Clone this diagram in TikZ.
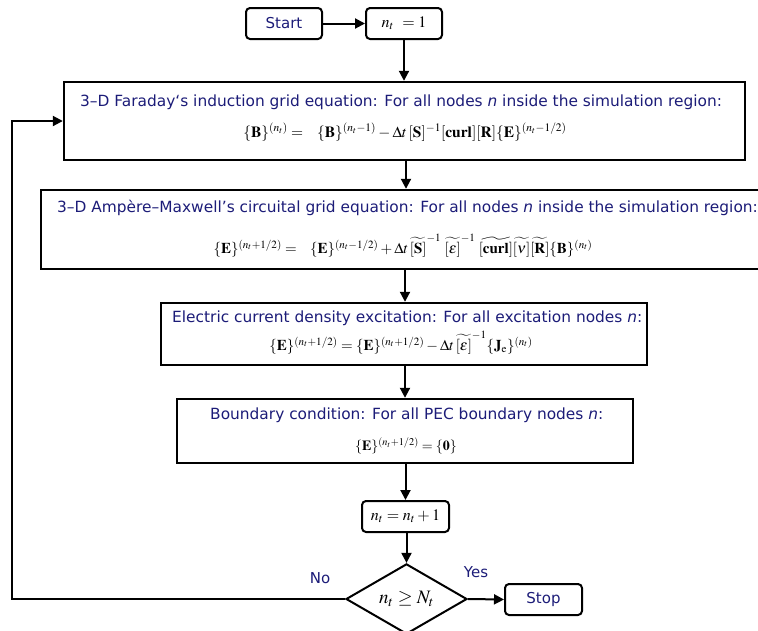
\documentclass[tikz,border=0pt]{standalone}
\usepackage{amsmath,amssymb}
\usepackage{mathptmx}
\usepackage[no-math]{fontspec}
\newfontfamily\labelfont{DejaVu Sans}
\usetikzlibrary{shapes.geometric,arrows.meta}
\definecolor{navy}{RGB}{28,28,120}
\begin{document}
\begin{tikzpicture}[x=1pt,y=-1pt,
  bigbox/.style={draw, line width=2.4pt, inner sep=0pt},
  rbox/.style={draw, line width=2pt, rounded corners=4pt, inner sep=0pt, minimum height=31pt},
  arr/.style={-{Triangle[length=10pt,width=10pt]}, line width=2pt},
  ttl/.style={font=\labelfont\fontsize{15.4}{18}\selectfont, text=navy, inner sep=0pt},
  lbl/.style={font=\labelfont\fontsize{15}{18}\selectfont, text=navy, inner sep=0pt},
  eqn/.style={font=\fontsize{15}{18}\selectfont, inner sep=0pt}]
\path[use as bounding box] (0,0) rectangle (758,630);

% top boxes
\node[rbox, minimum width=76pt, lbl] (start) at (284,23.5) {Start};
\node[rbox, minimum width=76pt] (n1) at (404,23.5) {\fontsize{16}{18}\selectfont$n_t\ =1$};

% big boxes
\node[bigbox, minimum width=681pt, minimum height=78pt] (b1) at (404.5,121) {};
\node[bigbox, minimum width=734pt, minimum height=79pt] (b2) at (408,229.5) {};
\node[bigbox, minimum width=486pt, minimum height=62pt] (b3) at (404,334) {};
\node[bigbox, minimum width=456pt, minimum height=64pt] (b4) at (405,431) {};

\node[ttl, anchor=west] (t1) at (80,102) {3–D Faraday‘s induction grid equation: For all nodes \textit{n} inside the simulation region:};
\node[eqn] (e1) at (405,132) {\fontsize{15.5}{18}\selectfont$\{\mathbf{B}\}^{(n_t)} = \;\;\; \{\mathbf{B}\}^{(n_t-1)} - \Delta t\,[\mathbf{S}]^{-1}[\mathbf{curl}][\mathbf{R}]\{\mathbf{E}\}^{(n_t-1/2)}$};

\node[ttl, anchor=west] (t2) at (57,208) {3–D Ampère–Maxwell’s circuital grid equation: For all nodes \textit{n} inside the simulation region:};
\node[eqn] (e2) at (403,246) {$\{\mathbf{E}\}^{(n_t+1/2)} = \;\;\; \{\mathbf{E}\}^{(n_t-1/2)} + \Delta t\,\widetilde{[\mathbf{S}]}^{-1}\;\widetilde{[\boldsymbol{\varepsilon}]}^{-1}\;\widetilde{[\mathbf{curl}]}\widetilde{[\boldsymbol{\nu}]}\widetilde{[\mathbf{R}]}\{\mathbf{B}\}^{(n_t)}$};

\node[ttl, anchor=west] (t3) at (172,318) {Electric current density excitation: For all excitation nodes \textit{n}:};
\node[eqn] (e3) at (401,343) {$\{\mathbf{E}\}^{(n_t+1/2)} = \{\mathbf{E}\}^{(n_t+1/2)} - \Delta t\,\widetilde{[\boldsymbol{\varepsilon}]}^{-1}\{\mathbf{J}_{\mathrm{e}}\}^{(n_t)}$};

\node[ttl, anchor=west] (t4) at (210,415) {Boundary condition: For all PEC boundary nodes \textit{n}:};
\node[eqn] (e4) at (406,446) {\fontsize{14}{17}\selectfont$\{\mathbf{E}\}^{(n_t+1/2)} = \{\mathbf{0}\}$};

% lower part
\node[rbox, minimum width=87pt] (inc) at (405.5,516.5) {\fontsize{16}{18}\selectfont$n_t = n_t + 1$};
\node[draw, diamond, line width=2pt, inner sep=0pt, minimum width=121pt, minimum height=64pt] (dia) at (406.5,599) {\fontsize{19}{21}\selectfont$n_t \geq N_t$};
\node[rbox, minimum width=77pt, lbl] (stop) at (543.5,599.5) {Stop};
\coordinate (lp) at (12,599);

\node[lbl] (no) at (320,578) {No};
\node[lbl] (yes) at (476,572) {Yes};

% connectors
\draw[arr] (start) -- (n1);
\draw[arr] (n1.south) -- (n1.south |- b1.north);
\draw[arr] (b1.south -| 406,0) -- (b2.north -| 406,0);
\draw[arr] (b2.south -| 405,0) -- (b3.north -| 405,0);
\draw[arr] (b3.south -| 405,0) -- (b4.north -| 405,0);
\draw[arr] (b4.south -| inc.north) -- (inc.north);
\draw[arr] (inc.south -| dia.north) -- (dia.north);
\draw[arr] (dia.east) -- (stop.west);
\draw[arr] (dia.west) -- (lp) |- (b1.west);
\end{tikzpicture}
\end{document}
